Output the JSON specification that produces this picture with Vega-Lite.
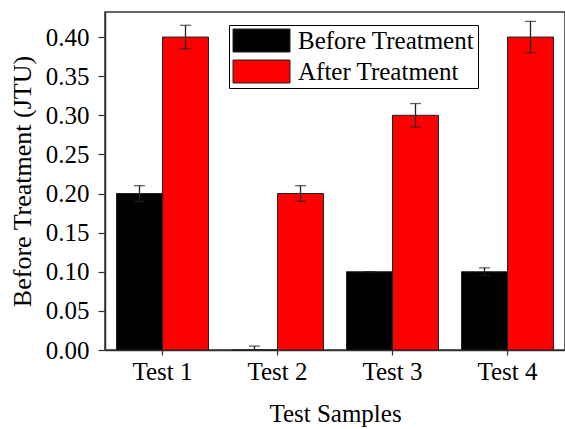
{
  "$schema": "https://vega.github.io/schema/vega-lite/v6.json",
  "width": 460,
  "height": 338,
  "autosize": "none",
  "padding": {"left": 105, "top": 12, "right": 0, "bottom": 79},
  "background": "white",
  "config": {
    "font": "Liberation Serif",
    "view": {"stroke": "#333", "strokeWidth": 1.5},
    "axis": {
      "labelFont": "Liberation Serif",
      "titleFont": "Liberation Serif",
      "labelFontSize": 25,
      "titleFontSize": 25,
      "labelColor": "#000",
      "titleColor": "#000",
      "titleFontWeight": "normal",
      "tickColor": "#333",
      "domainColor": "#333",
      "domainWidth": 1.5,
      "tickWidth": 1.2,
      "grid": false
    },
    "legend": {
      "labelFont": "Liberation Serif",
      "labelFontSize": 25,
      "labelColor": "#000",
      "labelLimit": 400
    }
  },
  "data": {
    "values": [
      {"test": "Test 1", "group": "Before Treatment", "value": 0.20, "lo": 0.19, "hi": 0.21},
      {"test": "Test 1", "group": "After Treatment", "value": 0.40, "lo": 0.385, "hi": 0.415},
      {"test": "Test 2", "group": "Before Treatment", "value": 0.0, "lo": 0.0, "hi": 0.005},
      {"test": "Test 2", "group": "After Treatment", "value": 0.20, "lo": 0.19, "hi": 0.21},
      {"test": "Test 3", "group": "Before Treatment", "value": 0.10, "lo": 0.10, "hi": 0.10},
      {"test": "Test 3", "group": "After Treatment", "value": 0.30, "lo": 0.285, "hi": 0.315},
      {"test": "Test 4", "group": "Before Treatment", "value": 0.10, "lo": 0.095, "hi": 0.105},
      {"test": "Test 4", "group": "After Treatment", "value": 0.40, "lo": 0.38, "hi": 0.42}
    ]
  },
  "encoding": {
    "x": {
      "field": "test",
      "type": "nominal",
      "scale": {"paddingInner": 0.2, "paddingOuter": 0.1},
      "axis": {
        "title": "Test Samples",
        "labelAngle": 0,
        "tickSize": 5,
        "labelPadding": 4,
        "titlePadding": 17,
        "domain": true
      }
    },
    "xOffset": {"field": "group", "type": "nominal", "sort": ["Before Treatment", "After Treatment"]}
  },
  "layer": [
    {
      "mark": {"type": "bar", "stroke": "#222", "strokeWidth": 1},
      "encoding": {
        "y": {
          "field": "value",
          "type": "quantitative",
          "scale": {"domain": [0, 0.432], "nice": false, "zero": true},
          "axis": {
            "title": "Before Treatment (JTU)",
            "titleFontSize": 26,
            "values": [0, 0.025, 0.05, 0.075, 0.1, 0.125, 0.15, 0.175, 0.2, 0.225, 0.25, 0.275, 0.3, 0.325, 0.35, 0.375, 0.4, 0.425],
            "labelExpr": "round(datum.value*1000) % 50 === 0 ? format(datum.value, '.2f') : ''",
            "labelOverlap": false,
            "tickSize": {"condition": {"test": "round(datum.value*1000) % 50 !== 0", "value": 4}, "value": 7},
            "labelPadding": 9,
            "titlePadding": 10
          }
        },
        "color": {
          "field": "group",
          "type": "nominal",
          "sort": ["Before Treatment", "After Treatment"],
          "scale": {"domain": ["Before Treatment", "After Treatment"], "range": ["#000000", "#ff0000"]},
          "legend": {
            "title": null,
            "orient": "none",
            "legendX": 124,
            "legendY": 13,
            "symbolType": "M-1,-1H3.957V1H-1Z",
            "symbolSize": 529,
            "symbolStrokeColor": "#222",
            "symbolStrokeWidth": 1,
            "symbolOpacity": 1,
            "labelOffset": 41,
            "rowPadding": 4,
            "strokeColor": "#000",
            "padding": 3,
            "fillColor": "white"
          }
        }
      }
    },
    {
      "mark": {"type": "rule", "color": "#222", "strokeWidth": 1.3},
      "encoding": {
        "y": {"field": "lo", "type": "quantitative"},
        "y2": {"field": "hi"}
      }
    },
    {
      "mark": {"type": "tick", "color": "#222", "thickness": 1.3, "size": 11, "orient": "horizontal"},
      "encoding": {"y": {"field": "hi", "type": "quantitative"}}
    },
    {
      "mark": {"type": "tick", "color": "#222", "thickness": 1.3, "size": 11, "orient": "horizontal"},
      "encoding": {"y": {"field": "lo", "type": "quantitative"}}
    }
  ]
}
